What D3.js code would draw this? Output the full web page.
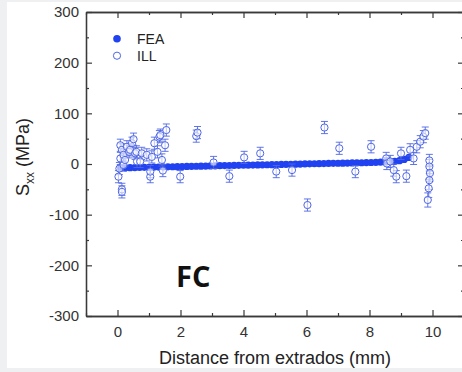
<!DOCTYPE html>
<html>
<head>
<meta charset="utf-8">
<script src="https://cdn.jsdelivr.net/npm/d3@7"></script>
<style>
  html, body { margin: 0; padding: 0; background: #eef0f2; }
  svg { display: block; }
</style>
</head>
<body>
<svg id="chart" width="462" height="372"></svg>
<script>
// FEA curve (filled markers)
const feaX = [0.10, 0.25, 0.40, 0.55, 0.70, 0.85, 1.00, 1.15, 1.30, 1.45, 1.60, 1.75, 1.90, 2.05, 2.20, 2.35,
  2.50, 2.65, 2.80, 2.95, 3.10, 3.25, 3.40, 3.55, 3.70, 3.85, 4.00, 4.15, 4.30, 4.45, 4.60, 4.75, 4.90, 5.05,
  5.20, 5.35, 5.50, 5.65, 5.80, 5.95, 6.10, 6.25, 6.40, 6.55, 6.70, 6.85, 7.00, 7.15, 7.30, 7.45, 7.60, 7.75,
  7.90, 8.05, 8.20, 8.35, 8.50, 8.65, 8.80, 8.95, 9.10, 9.25];
const feaY = [-8, -7.5, -7.3, -7, -6.8, -6.6, -6.4, -6.2, -6, -5.8, -5.6, -5.4, -5.2, -5, -4.8, -4.6,
  -4.4, -4.2, -4, -3.8, -3.6, -3.4, -3.2, -3, -2.8, -2.6, -2.5, -2.3, -2.1, -1.9, -1.7, -1.5, -1.3, -1.1,
  -0.9, -0.7, -0.5, -0.3, -0.1, 0.1, 0.3, 0.5, 0.7, 0.9, 1.1, 1.3, 1.5, 1.7, 1.9, 2.1, 2.3, 2.5,
  2.8, 3, 3.3, 3.6, 4, 4.5, 5.2, 6.5, 9, 13];

// ILL measurements (open markers with error bars)
const illX = [0.03, 0.06, 0.09, 0.09, 0.14, 0.14, 0.14, 0.19, 0.19, 0.24, 0.30, 0.37, 0.40, 0.46, 0.51, 0.56,
  0.60, 0.62, 0.72, 0.77, 0.93, 1.04, 1.04, 1.09, 1.17, 1.27, 1.33, 1.36, 1.41, 1.44, 1.51, 1.55, 1.99,
  2.50, 2.54, 3.05, 3.55, 4.02, 4.53, 5.04, 5.54, 6.03, 6.57, 7.04, 7.55, 8.05, 8.53, 8.55, 8.66, 8.77,
  8.85, 9.00, 9.17, 9.29, 9.40, 9.50, 9.61, 9.71, 9.77, 9.90, 9.90, 9.92, 9.90, 9.88, 9.85];
const illY = [-25, -9, 37, 11, 28, -50, -55, 18, -2, 8, 34, 24, 28, 41, 49, 21,
  24, 5, 5, 21, 18, -25, -15, 14, 41, 24, 54, 57, 8, -13, 37, 67, -25,
  55, 62, 3, -24, 13, 21, -15, -12, -81, 72, 31, -15, 34, 11, 1, 5, -12,
  -25, 21, -24, 28, 11, 34, 44, 54, 61, 7, -5, -18, -32, -48, -71];
const illErr = [12, 12, 12, 12, 12, 12, 12, 12, 12, 12, 12, 12, 12, 12, 12, 12,
  12, 12, 12, 12, 12, 12, 12, 12, 12, 12, 12, 12, 12, 12, 12, 12, 12,
  12, 12, 12, 12, 12, 12, 12, 12, 12, 12, 12, 12, 12, 12, 12, 12, 12,
  12, 12, 12, 12, 12, 12, 12, 12, 12, 12, 14, 16, 18, 18, 14];

const xTicks = [0, 2, 4, 6, 8, 10];
const xMinor = [-1, 1, 3, 5, 7, 9, 11];
const yTicks = [-300, -200, -100, 0, 100, 200, 300];
const yMinor = [-250, -150, -50, 50, 150, 250];

const fea = feaX.map((x, i) => ({ x: x, y: feaY[i] }));
const ill = illX.map((x, i) => ({ x: x, y: illY[i], e: illErr[i] }));

const svg = d3.select('#chart');
const pLeft = 86, pRight = 464, pTop = 12, pBottom = 316;

const x = d3.scaleLinear().domain([-1, 11]).range([pLeft, pRight]);
const y = d3.scaleLinear().domain([-300, 300]).range([pBottom, pTop]);

// white card
svg.append('rect')
  .attr('x', 7).attr('y', 2)
  .attr('width', 460).attr('height', 366)
  .attr('fill', '#ffffff');

const axisColor = '#3a3a3a';
const plain = d => String(d);   // keep ASCII hyphen like the original
const styleAxis = (g) => {
  g.select('.domain').attr('stroke', axisColor).attr('stroke-width', 1.3);
  g.selectAll('.tick line').attr('stroke', axisColor).attr('stroke-width', 1.2);
  g.selectAll('.tick text')
    .attr('fill', '#333')
    .style('font-family', 'Arial, "Liberation Sans", sans-serif')
    .style('font-size', '15px');
};

// minor ticks
svg.append('g').attr('transform', `translate(0,${pBottom})`)
  .call(d3.axisBottom(x).tickValues(xMinor).tickSize(-3).tickSizeOuter(0).tickFormat(''))
  .call(styleAxis);
svg.append('g').attr('transform', `translate(0,${pTop})`)
  .call(d3.axisTop(x).tickValues(xMinor).tickSize(-3).tickSizeOuter(0).tickFormat(''))
  .call(styleAxis);
svg.append('g').attr('transform', `translate(${pLeft},0)`)
  .call(d3.axisLeft(y).tickValues(yMinor).tickSize(-3).tickSizeOuter(0).tickFormat(''))
  .call(styleAxis);
svg.append('g').attr('transform', `translate(${pRight},0)`)
  .call(d3.axisRight(y).tickValues(yMinor).tickSize(-3).tickSizeOuter(0).tickFormat(''))
  .call(styleAxis);

// major ticks
svg.append('g').attr('transform', `translate(0,${pBottom})`)
  .call(d3.axisBottom(x).tickValues(xTicks).tickSize(-6).tickSizeOuter(0).tickPadding(10).tickFormat(plain))
  .call(styleAxis);
svg.append('g').attr('transform', `translate(0,${pTop})`)
  .call(d3.axisTop(x).tickValues(xTicks).tickSize(-6).tickSizeOuter(0).tickFormat(''))
  .call(styleAxis);
svg.append('g').attr('transform', `translate(${pLeft},0)`)
  .call(d3.axisLeft(y).tickValues(yTicks).tickSize(-6).tickSizeOuter(0).tickPadding(7).tickFormat(plain))
  .call(styleAxis);
svg.append('g').attr('transform', `translate(${pRight},0)`)
  .call(d3.axisRight(y).tickValues(yTicks).tickSize(-6).tickSizeOuter(0).tickFormat(''))
  .call(styleAxis);

const plot = svg.append('g');

// FEA filled markers
const feaColor = '#2142f0';
plot.append('g')
  .selectAll('circle')
  .data(fea)
  .join('circle')
  .attr('cx', d => x(d.x))
  .attr('cy', d => y(d.y))
  .attr('r', 3.6)
  .attr('fill', feaColor);

// ILL error bars + open markers
const illColor = '#4f66e4';
const bars = plot.append('g')
  .attr('stroke', illColor)
  .attr('stroke-width', 0.9)
  .attr('fill', 'none');

bars.selectAll('line.v')
  .data(ill)
  .join('line')
  .attr('class', 'v')
  .attr('x1', d => x(d.x)).attr('x2', d => x(d.x))
  .attr('y1', d => y(d.y - d.e)).attr('y2', d => y(d.y + d.e));

bars.selectAll('line.hi')
  .data(ill)
  .join('line')
  .attr('class', 'hi')
  .attr('x1', d => x(d.x) - 3.5).attr('x2', d => x(d.x) + 3.5)
  .attr('y1', d => y(d.y + d.e)).attr('y2', d => y(d.y + d.e));

bars.selectAll('line.lo')
  .data(ill)
  .join('line')
  .attr('class', 'lo')
  .attr('x1', d => x(d.x) - 3.5).attr('x2', d => x(d.x) + 3.5)
  .attr('y1', d => y(d.y - d.e)).attr('y2', d => y(d.y - d.e));

plot.append('g')
  .selectAll('circle')
  .data(ill)
  .join('circle')
  .attr('cx', d => x(d.x))
  .attr('cy', d => y(d.y))
  .attr('r', 3.6)
  .attr('fill', '#ffffff')
  .attr('fill-opacity', 0.6)
  .attr('stroke', illColor)
  .attr('stroke-width', 1);

// legend
const legend = svg.append('g')
  .style('font-family', 'Arial, "Liberation Sans", sans-serif')
  .style('font-size', '14px');
legend.append('circle').attr('cx', 117).attr('cy', 38.7).attr('r', 3.8).attr('fill', feaColor);
legend.append('text').attr('x', 137).attr('y', 44).attr('fill', '#222').text('FEA');
legend.append('circle').attr('cx', 117).attr('cy', 55.7).attr('r', 3.6)
  .attr('fill', 'none').attr('stroke', illColor).attr('stroke-width', 1);
legend.append('text').attr('x', 137).attr('y', 61).attr('fill', '#222').text('ILL');

// panel label
svg.append('text')
  .attr('x', 176).attr('y', 287)
  .style('font-family', '"Open Sans", sans-serif')
  .style('font-weight', 'bold')
  .style('font-size', '29px')
  .attr('fill', '#111')
  .text('FC');

// axis titles
svg.append('text')
  .attr('x', 275).attr('y', 364)
  .attr('text-anchor', 'middle')
  .style('font-family', 'Arial, "Liberation Sans", sans-serif')
  .style('font-size', '18px')
  .attr('fill', '#222')
  .text('Distance from extrados (mm)');

const yTitle = svg.append('text')
  .attr('transform', 'translate(29,157) rotate(-90)')
  .attr('text-anchor', 'middle')
  .style('font-family', 'Arial, "Liberation Sans", sans-serif')
  .style('font-size', '18px')
  .attr('fill', '#222');
yTitle.append('tspan').text('S');
yTitle.append('tspan').attr('dy', 5).style('font-size', '12px').text('xx');
yTitle.append('tspan').attr('dy', -5).text(' (MPa)');
</script>
</body>
</html>
